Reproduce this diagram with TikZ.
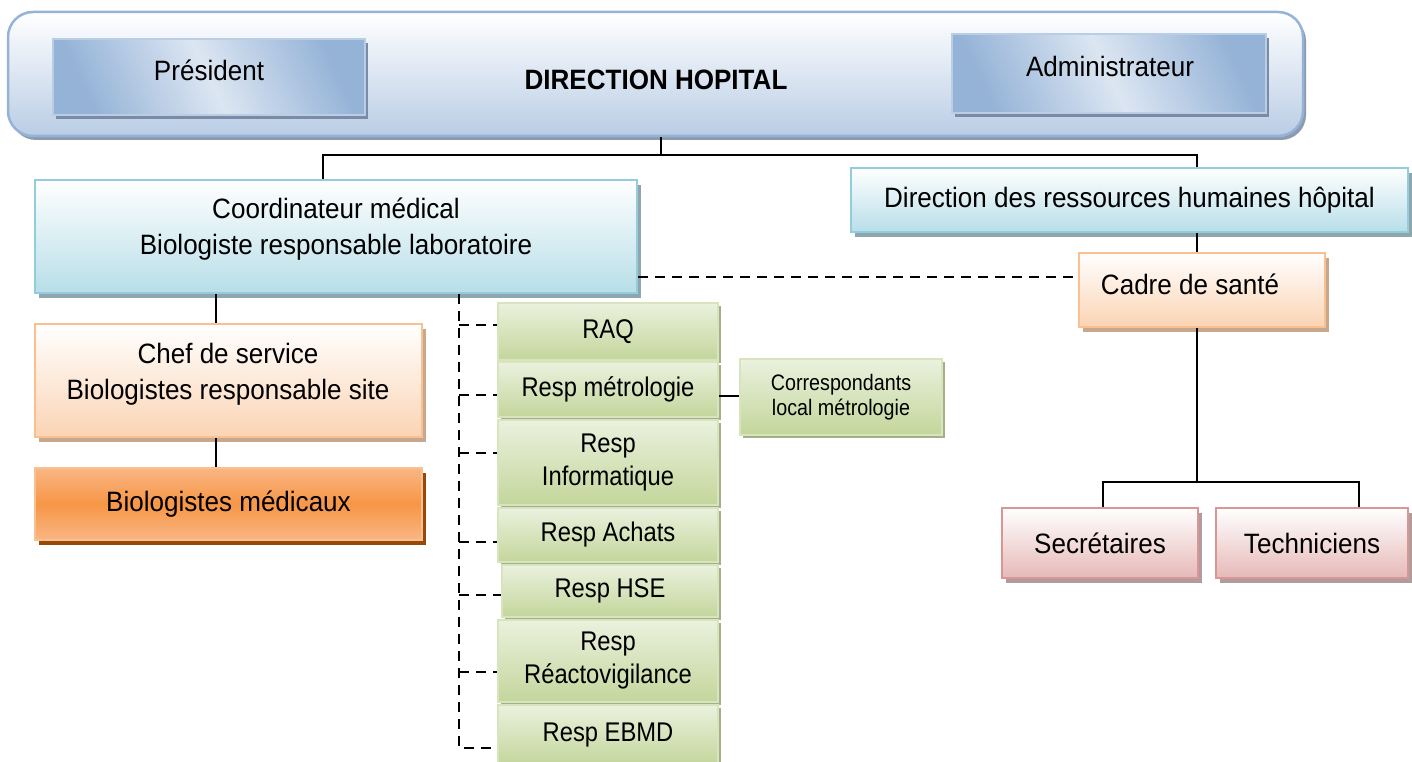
\documentclass[tikz,border=0pt]{standalone}
\usepackage{fontspec}
\setmainfont{Liberation Sans}[FakeStretch=0.93]
\newfontfamily\grfont{Liberation Sans}[FakeStretch=0.88]
\usetikzlibrary{shadows,calc}
\definecolor{bbBorder}{HTML}{95B3D7}
\definecolor{bbBot}{HTML}{B9CDE5}
\definecolor{bbShadow}{HTML}{8C9BB0}
\definecolor{pDark}{HTML}{95B3D7}
\definecolor{pLight}{HTML}{DCE6F2}
\definecolor{pBorder}{HTML}{B9CDE5}
\definecolor{pShadow}{HTML}{7A8CA5}
\definecolor{cyBorder}{HTML}{93CDDD}
\definecolor{cyBot}{HTML}{B7DEE8}
\definecolor{cyShadow}{HTML}{8FA6AE}
\definecolor{orBorder}{HTML}{FAC090}
\definecolor{orBot}{HTML}{FBD4B4}
\definecolor{orShadow}{HTML}{C8A88C}
\definecolor{bmMid}{HTML}{F79646}
\definecolor{bmEdge}{HTML}{F9B684}
\definecolor{bmShadow}{HTML}{984807}
\definecolor{grTop}{HTML}{EBF1DE}
\definecolor{grBot}{HTML}{C3D69B}
\definecolor{grBorder}{HTML}{D7E4BD}
\definecolor{grShadow}{HTML}{A3B08A}
\definecolor{pkBorder}{HTML}{D99694}
\definecolor{pkBot}{HTML}{E6B9B8}
\definecolor{pkShadow}{HTML}{B09C9C}
\newcommand{\fA}{\fontsize{28}{36}\selectfont}
\newcommand{\fG}{\grfont\fontsize{27}{33}\selectfont}
\newcommand{\fC}{\grfont\fontsize{22.4}{25}\selectfont}
\begin{document}
\begin{tikzpicture}[x=1pt, y=-1pt,
  basebox/.style={rectangle, inner sep=0pt, align=center},
  dims/.style n args={2}{minimum width=#1pt, minimum height=#2pt},
  bigbox/.style={basebox, rounded corners=25pt, draw=bbBorder, line width=2.5pt,
    top color=white, bottom color=bbBot,
    drop shadow={shadow xshift=3pt, shadow yshift=-4pt, fill=bbShadow, opacity=1}},
  presbox/.style={basebox, draw=pBorder, line width=1.2pt,
    left color=pDark, right color=pDark, middle color=pLight, shading angle=115,
    drop shadow={shadow xshift=3pt, shadow yshift=-4pt, fill=pShadow, opacity=1}},
  cybox/.style={basebox, draw=cyBorder, line width=2.5pt, top color=white, bottom color=cyBot,
    drop shadow={shadow xshift=4pt, shadow yshift=-5pt, fill=cyShadow, opacity=1}, font=\fA},
  orbox/.style={basebox, draw=orBorder, line width=2pt, top color=white, bottom color=orBot,
    drop shadow={shadow xshift=4pt, shadow yshift=-5pt, fill=orShadow, opacity=1}, font=\fA},
  bmbox/.style={basebox, draw=orBorder, line width=2pt, top color=bmEdge, bottom color=bmEdge, middle color=bmMid,
    drop shadow={shadow xshift=4pt, shadow yshift=-5pt, fill=bmShadow, opacity=1}, font=\fA},
  grbox/.style={basebox, draw=grBorder, line width=1.5pt, top color=grTop, bottom color=grBot,
    drop shadow={shadow xshift=3pt, shadow yshift=-3pt, fill=grShadow, opacity=1}, font=\fG},
  pkbox/.style={basebox, draw=pkBorder, line width=2pt, top color=white, bottom color=pkBot,
    drop shadow={shadow xshift=4pt, shadow yshift=-5pt, fill=pkShadow, opacity=1}, font=\fA},
  txt/.style={inner sep=0pt, align=center, font=\fA},
  conn/.style={draw=black, line width=2pt},
  dl/.style={draw=black, line width=2pt, dash pattern=on 10pt off 7pt}
]
\useasboundingbox (0,0) rectangle (1412,762);

% top block
\node[bigbox, dims={1295}{124}] (dir) at (655.5,74) {};
\node[presbox, dims={312}{76}] (pres) at (209,77) {};
\node[presbox, dims={314}{79}] (admin) at (1109,73.5) {};
\node[txt] (presT) at (209,70) {Président};
\node[txt] (adminT) at (1110,66) {Administrateur};
\node[txt, font=\fA\bfseries] (dirT) at (656,80) {DIRECTION HOPITAL};

% second level
\node[cybox, dims={602}{113}] (coord) at (336,236.5) {};
\node[txt] (coordT) at (336,229) {Coordinateur médical\\Biologiste responsable laboratoire};
\node[cybox, dims={557}{64}] (drh) at (1129.5,200) {Direction des ressources humaines hôpital};

\node[orbox, dims={246}{74}] (cadre) at (1202,290) {};
\node[txt] (cadreT) at (1190,284) {Cadre de santé};

\node[orbox, dims={387}{113}] (chef) at (228.5,380.5) {};
\node[txt] (chefT) at (228,374) {Chef de service\\Biologistes responsable site};
\node[bmbox, dims={387}{72}] (biol) at (228.5,504) {Biologistes médicaux};

% green column
\node[grbox, dims={220}{57}] (raq) at (608,331.5) {RAQ};
\node[grbox, dims={220}{55}] (metro) at (608,389.5) {Resp métrologie};
\node[grbox, dims={220}{85}] (info) at (608,462.5) {Resp\\Informatique};
\node[grbox, dims={220}{54}] (achat) at (608,535) {Resp Achats};
\node[grbox, dims={216}{52}] (hse) at (610,591) {Resp HSE};
\node[grbox, dims={220}{82}] (reacto) at (608,661) {Resp\\Réactovigilance};
\node[grbox, dims={220}{60}] (ebmd) at (608,735) {Resp EBMD};
\node[grbox, dims={202}{76}, font=\fC] (corr) at (841,397) {Correspondants\\local métrologie};

% pink
\node[pkbox, dims={196}{70}] (sec) at (1100,543) {Secrétaires};
\node[pkbox, dims={192}{70}] (tech) at (1312,543) {Techniciens};

% connectors
\path ([xshift=5.5pt]dir.south) ++(0,18) coordinate (jt);
\draw[conn] ([xshift=5.5pt]dir.south) -- (jt);
\draw[conn] ([xshift=-13pt]coord.north) |- (jt) -| ([xshift=67.5pt]drh.north);
\draw[conn] ([xshift=67.5pt]drh.south) -- ([xshift=-5pt]cadre.north);
\coordinate (jc) at (1197,482);
\draw[conn] ([xshift=-5pt]cadre.south) -- (jc);
\draw[conn] ([xshift=3pt]sec.north) |- (jc) -| ([xshift=47pt]tech.north);
\draw[conn] ([xshift=-120pt]coord.south) -- ([xshift=-12.5pt]chef.north);
\draw[conn] ([xshift=-12.5pt]chef.south) -- ([xshift=-12.5pt]biol.north);
\draw[conn] (metro.east |- 0,396) -- (corr.west |- 0,396);
\draw[dl] (coord.east |- 0,277) -- (cadre.west |- 0,277);

\coordinate (bus) at (coord.south -| 459,0);
\coordinate (busEnd) at (459,748);
\draw[dl] (bus) -- (busEnd) -- (ebmd.west |- busEnd);
\draw[dl] (bus |- 0,325) -- (raq.west |- 0,325);
\draw[dl] (bus |- 0,395) -- (metro.west |- 0,395);
\draw[dl] (bus |- 0,453) -- (info.west |- 0,453);
\draw[dl] (bus |- 0,542) -- (achat.west |- 0,542);
\draw[dl] (bus |- 0,595) -- (hse.west |- 0,595);
\draw[dl] (bus |- 0,672) -- (reacto.west |- 0,672);
\end{tikzpicture}
\end{document}
